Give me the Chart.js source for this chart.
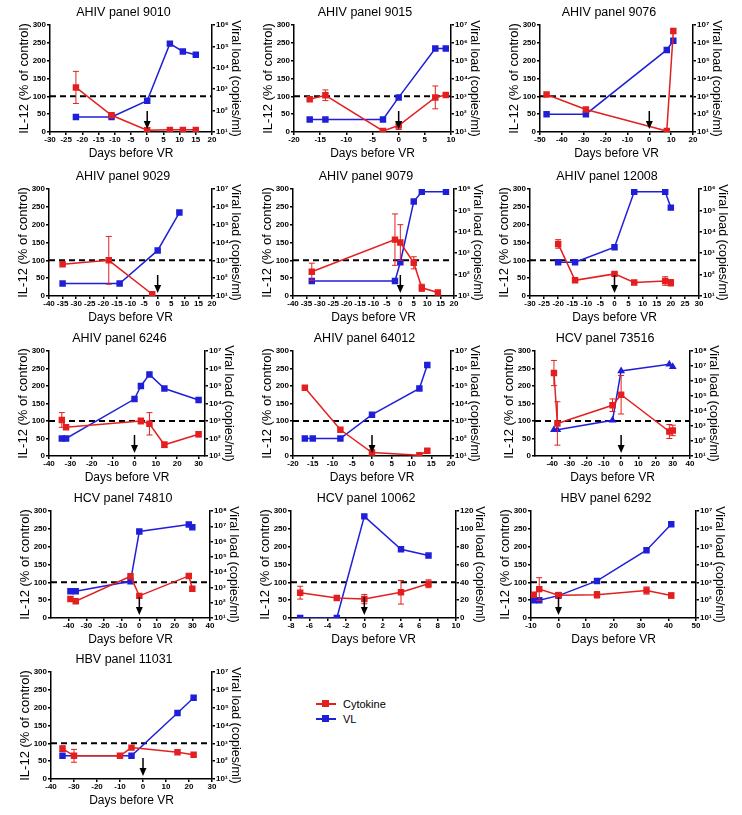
<!DOCTYPE html>
<html>
<head>
<meta charset="utf-8">
<script src="https://cdn.jsdelivr.net/npm/chart.js@4.4.1/dist/chart.umd.min.js"></script>
<style>
  body { margin: 0; background: #fff; }
  #page { position: relative; width: 742px; height: 815px; overflow: hidden; font-family: "Liberation Sans", Arial, sans-serif; }
  #page canvas { position: absolute; }
  .leg { position: absolute; font-size: 11px; color: #000; height: 12px; line-height: 12px; }
  .leg i { position: absolute; left: -27px; top: 5px; width: 20px; height: 2px; }
  .leg i::after { content: ""; position: absolute; left: 6px; top: -3px; width: 7px; height: 7px; background: inherit; }
</style>
</head>
<body>
<div id="page">
  <div class="leg" style="left:343px;top:698px"><i style="background:#e41f1f"></i>Cytokine</div>
  <div class="leg" style="left:343px;top:713px"><i style="background:#1f1fd9"></i>VL</div>
</div>
<script>
const titles = ['AHIV panel 9010', 'AHIV panel 9015', 'AHIV panel 9076', 'AHIV panel 9029', 'AHIV panel 9079',
  'AHIV panel 12008', 'AHIV panel 6246', 'AHIV panel 64012', 'HCV panel 73516', 'HCV panel 74810',
  'HCV panel 10062', 'HBV panel 6292', 'HBV panel 11031'];

// IL-12 (% of control), mean and half error bar
const cytoDays = [[-22, -11, 0, 7, 11, 15], [-17, -14, -3, 0, 7, 9], [-47, -29, 8, 11], [-35, -18, -2],
  [-33, -2, 0, 5, 8, 14], [-20, -14, 0, 7, 18, 20], [-34, -32, 3, 7, 14, 30], [-17, -8, 0, 12, 14],
  [-39, -37, -5, 0, 28, 30], [-39, -36, -5, 0, 28, 30], [-7, -3, 0, 4, 7], [-9, -7, 0, 14, 32, 41],
  [-35, -30, -10, -5, 15, 22]];
const cytoValues = [[125, 47, 5, 6, 6, 6], [92, 103, 3, 18, 97, 104], [105, 63, 3, 283], [89, 100, 5],
  [68, 158, 150, 93, 23, 10], [146, 44, 62, 38, 42, 37], [103, 82, 100, 92, 32, 62], [195, 75, 10, 2, 15],
  [237, 93, 145, 175, 70, 73], [53, 47, 117, 62, 118, 82], [71, 56, 53, 72, 96], [65, 81, 64, 65, 77, 63],
  [85, 65, 65, 88, 75, 68]];
const cytoErr = [[45, 0, 0, 0, 0, 0], [0, 15, 0, 11, 32, 0], [0, 0, 0, 0], [0, 67, 0],
  [24, 72, 50, 17, 10, 0], [12, 6, 4, 2, 12, 9], [21, 0, 8, 32, 8, 7], [0, 0, 0, 0, 5],
  [36, 62, 18, 55, 20, 15], [0, 0, 0, 0, 0, 0], [18, 6, 13, 33, 11], [4, 32, 8, 9, 10, 7],
  [8, 18, 0, 0, 0, 0]];

// viral load, copies/ml
const vlDays = [[-22, -11, 0, 7, 11, 15], [-17, -14, -3, 0, 7, 9], [-47, -29, 8, 11], [-35, -14, 0, 8],
  [-33, -2, 0, 5, 8, 17], [-20, -14, 0, 7, 18, 20], [-34, -32, 0, 3, 7, 14, 30], [-17, -15, -8, 0, 12, 14],
  [-39, -37, -5, 0, 28, 30], [-39, -36, -5, 0, 28, 30], [-7, -3, 0, 4, 7], [-9, -7, 0, 14, 32, 41],
  [-35, -5, 15, 22]];
const vlValues = [[50, 50, 290, 1.35e5, 5.8e4, 4.1e4], [50, 50, 50, 870, 4.8e5, 4.8e5], [100, 100, 4e5, 1.3e6],
  [50, 50, 3600, 4.8e5], [50, 50, 380, 2.6e5, 7.4e5, 7.4e5], [380, 380, 1900, 7.4e5, 7.4e5, 1.35e5],
  [100, 100, 1.8e4, 1e5, 4.6e5, 7.2e4, 1.6e4], [100, 100, 100, 2300, 7.2e4, 1.6e6],
  [560, 560, 2400, 4.7e6, 1.3e7, 8.9e6], [560, 560, 2500, 4.6e6, 1.3e7, 8.7e6], [0, 0, 114, 77, 70],
  [100, 100, 180, 1200, 6.3e4, 1.8e6], [200, 200, 5e4, 3.6e5]];

// axes
const xMin = [-30, -20, -50, -40, -40, -30, -40, -20, -50, -50, -8, -10, -40];
const xMax = [20, 10, 20, 20, 20, 30, 33, 20, 40, 40, 10, 50, 30];
const xTickFrom = [-30, -20, -50, -40, -40, -30, -40, -20, -40, -40, -8, -10, -40];
const xTickTo = [20, 10, 20, 20, 20, 30, 30, 20, 40, 40, 10, 50, 30];
const xTickStep = [5, 5, 10, 5, 5, 5, 10, 5, 10, 10, 2, 10, 10];
const vlMin = [10, 10, 10, 10, 10, 10, 10, 10, 10, 10, 0, 10, 10];
const vlMax = [1e6, 1e7, 1e7, 1e7, 1e6, 1e6, 1e7, 1e7, 1e8, 1e8, 120, 1e7, 1e7];
const vlLog = [true, true, true, true, true, true, true, true, true, true, false, true, true];

// plot area boxes on the page: left, right, top, bottom
const boxes = [[50, 212, 25, 132], [294, 451, 25, 132], [540, 693, 25, 132],
  [49, 212, 189, 296], [293, 454, 189, 296], [530, 699, 189, 296],
  [49, 205, 351, 456], [293, 451, 351, 456], [535, 690, 351, 456],
  [51, 210, 511, 618], [291, 456, 511, 618], [531, 696, 511, 618],
  [51, 212, 672, 779]];

const RED = '#e41f1f', BLUE = '#1f1fd9';
const FONT = '"Liberation Sans", Arial, sans-serif';
const SUP = '⁰¹²³⁴⁵⁶⁷⁸⁹';

function range(a, b, s) {
  const r = [];
  for (let v = a; v <= b + 1e-9; v += s) r.push(Math.round(v * 1000) / 1000);
  return r;
}

// error bars and the VR arrow
const marks = {
  id: 'marks',
  afterDatasetsDraw(chart, args, opts) {
    const i = opts.panel;
    const ctx = chart.ctx, xs = chart.scales.x, ys = chart.scales.y;
    ctx.save();
    ctx.strokeStyle = RED;
    ctx.lineWidth = 1;
    cytoDays[i].forEach((d, k) => {
      const e = cytoErr[i][k];
      if (!e) return;
      const px = xs.getPixelForValue(d);
      const lo = ys.getPixelForValue(cytoValues[i][k] - e);
      const hi = ys.getPixelForValue(cytoValues[i][k] + e);
      ctx.beginPath();
      ctx.moveTo(px, lo); ctx.lineTo(px, hi);
      ctx.moveTo(px - 3, lo); ctx.lineTo(px + 3, lo);
      ctx.moveTo(px - 3, hi); ctx.lineTo(px + 3, hi);
      ctx.stroke();
    });
    const ax = xs.getPixelForValue(0), b = chart.chartArea.bottom;
    ctx.strokeStyle = '#000';
    ctx.fillStyle = '#000';
    ctx.lineWidth = 1.5;
    ctx.beginPath();
    ctx.moveTo(ax, b - 21); ctx.lineTo(ax, b - 9);
    ctx.stroke();
    ctx.beginPath();
    ctx.moveTo(ax - 3.5, b - 11); ctx.lineTo(ax + 3.5, b - 11); ctx.lineTo(ax, b - 3);
    ctx.closePath();
    ctx.fill();
    ctx.restore();
  }
};

const page = document.getElementById('page');
const tickFont = { family: FONT, size: 8, weight: 'bold' };
const axisGrid = { drawOnChartArea: false, tickLength: 3, color: '#000', lineWidth: 1.5 };
const axisBorder = { color: '#000', width: 1.5 };

titles.forEach((title, i) => {
  const [L, R, T, B] = boxes[i];
  const cv = document.createElement('canvas');
  const w = R - L + 85, h = B - T + 55;
  cv.width = w; cv.height = h;
  cv.style.left = (L - 50) + 'px';
  cv.style.top = (T - 25) + 'px';
  cv.style.width = w + 'px';
  cv.style.height = h + 'px';
  page.appendChild(cv);

  new Chart(cv, {
    type: 'line',
    data: {
      datasets: [
        {
          data: cytoDays[i].map((d, k) => ({ x: d, y: cytoValues[i][k] })),
          yAxisID: 'y', borderColor: RED, backgroundColor: RED, borderWidth: 1.5,
          pointStyle: 'rect', pointRadius: 3.5, tension: 0, order: 0
        },
        {
          data: vlDays[i].map((d, k) => ({ x: d, y: vlValues[i][k] })),
          yAxisID: 'y1', borderColor: BLUE, backgroundColor: BLUE, borderWidth: 1.5,
          pointStyle: i === 8 ? 'triangle' : 'rect', pointRadius: i === 8 ? 3 : 3.5, tension: 0, order: 1
        },
        {
          data: [{ x: xMin[i], y: 100 }, { x: xMax[i], y: 100 }],
          yAxisID: 'y', borderColor: '#000', borderWidth: 2, borderDash: [6, 4],
          pointRadius: 0, order: 2
        }
      ]
    },
    plugins: [marks],
    options: {
      responsive: false,
      animation: false,
      devicePixelRatio: 1,
      layout: { padding: 0 },
      plugins: {
        legend: { display: false },
        tooltip: { enabled: false },
        title: {
          display: true, text: title, color: '#000',
          font: { family: FONT, size: 12.5, weight: 'normal' },
          padding: { top: 5, bottom: 5 }
        },
        marks: { panel: i }
      },
      scales: {
        x: {
          type: 'linear', min: xMin[i], max: xMax[i],
          afterBuildTicks: s => { s.ticks = range(xTickFrom[i], xTickTo[i], xTickStep[i]).map(v => ({ value: v })); },
          afterFit: s => { s.height = 30; },
          ticks: { color: '#000', font: tickFont, padding: 0, autoSkip: false, maxRotation: 0 },
          grid: axisGrid, border: axisBorder,
          title: { display: true, text: 'Days before VR', color: '#000', font: { family: FONT, size: 12 }, padding: { top: 0, bottom: 1 } }
        },
        y: {
          position: 'left', min: 0, max: 300,
          afterFit: s => { s.width = 50; },
          ticks: { stepSize: 50, color: '#000', font: tickFont, padding: 1 },
          grid: axisGrid, border: axisBorder,
          title: { display: true, text: 'IL-12 (% of control)', color: '#000', font: { family: FONT, size: 13 }, padding: { top: 17, bottom: 0 } }
        },
        y1: {
          position: 'right',
          type: vlLog[i] ? 'logarithmic' : 'linear',
          min: vlMin[i], max: vlMax[i],
          afterBuildTicks: s => {
            if (!vlLog[i]) return;
            const t = [];
            for (let p = 1; Math.pow(10, p) <= vlMax[i]; p++) t.push({ value: Math.pow(10, p) });
            s.ticks = t;
          },
          afterFit: s => { s.width = 35; },
          ticks: {
            stepSize: vlLog[i] ? undefined : 10,
            color: '#000', font: tickFont, padding: 1,
            callback: v => vlLog[i] ? '10' + SUP[Math.round(Math.log10(v))] : String(v)
          },
          grid: axisGrid, border: axisBorder,
          title: { display: true, text: 'Viral load (copies/ml)', color: '#000', font: { family: FONT, size: 12.5 }, padding: { top: 4, bottom: 0 } }
        }
      }
    }
  });
});
</script>
</body>
</html>
